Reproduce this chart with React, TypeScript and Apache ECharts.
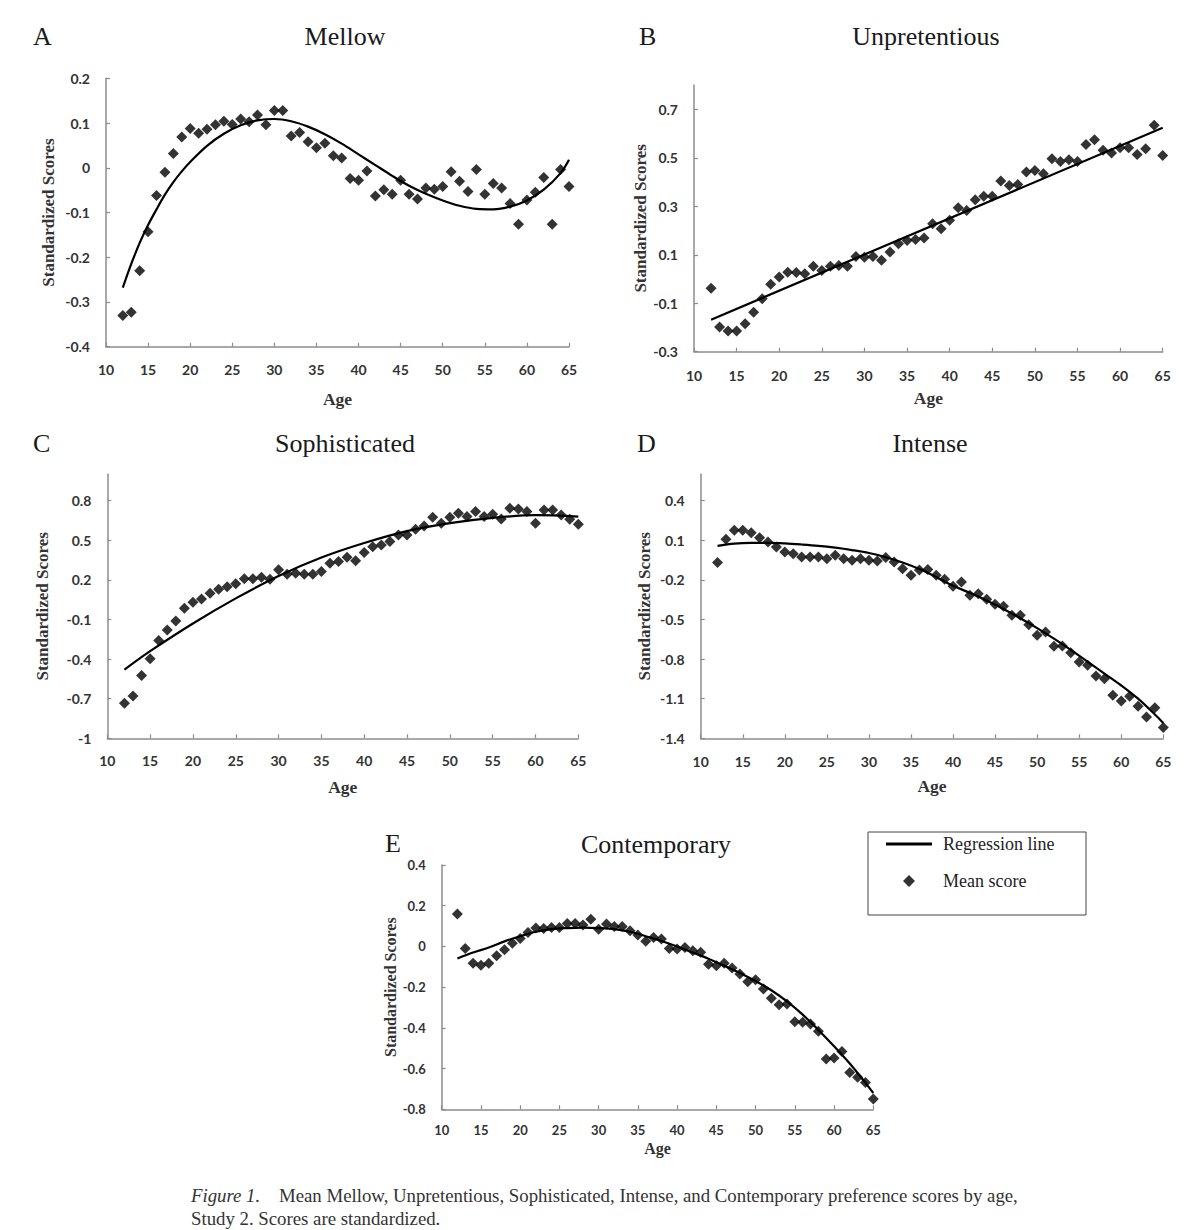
import React, { useEffect, useRef } from 'react';
import * as echarts from 'echarts';

// ---------- data ----------
const ages = [12, 13, 14, 15, 16, 17, 18, 19, 20, 21, 22, 23, 24, 25, 26, 27, 28, 29, 30, 31, 32, 33, 34, 35, 36, 37, 38, 39, 40, 41, 42, 43, 44, 45, 46, 47, 48, 49, 50, 51, 52, 53, 54, 55, 56, 57, 58, 59, 60, 61, 62, 63, 64, 65];

const mellowScores = [-0.330, -0.323, -0.230, -0.143, -0.062, -0.010, 0.032, 0.069, 0.088, 0.077, 0.086, 0.096, 0.104, 0.097, 0.109, 0.103, 0.118, 0.096, 0.128, 0.128, 0.071, 0.079, 0.058, 0.045, 0.055, 0.027, 0.022, -0.024, -0.028, -0.007, -0.063, -0.049, -0.059, -0.028, -0.059, -0.070, -0.045, -0.048, -0.042, -0.009, -0.030, -0.053, -0.004, -0.059, -0.035, -0.045, -0.080, -0.126, -0.072, -0.055, -0.022, -0.126, -0.004, -0.042];

const unpretentiousScores = [-0.038, -0.198, -0.215, -0.215, -0.185, -0.137, -0.082, -0.022, 0.008, 0.028, 0.027, 0.022, 0.053, 0.035, 0.053, 0.056, 0.053, 0.093, 0.090, 0.093, 0.077, 0.111, 0.145, 0.159, 0.163, 0.169, 0.228, 0.207, 0.242, 0.294, 0.283, 0.327, 0.341, 0.341, 0.404, 0.386, 0.390, 0.441, 0.448, 0.434, 0.496, 0.485, 0.492, 0.485, 0.555, 0.575, 0.531, 0.520, 0.542, 0.542, 0.514, 0.537, 0.634, 0.510];

const sophisticatedScores = [-0.734, -0.679, -0.525, -0.398, -0.260, -0.179, -0.111, -0.015, 0.031, 0.056, 0.099, 0.129, 0.149, 0.170, 0.208, 0.208, 0.220, 0.205, 0.276, 0.243, 0.251, 0.243, 0.243, 0.263, 0.326, 0.339, 0.372, 0.346, 0.407, 0.452, 0.465, 0.490, 0.541, 0.541, 0.584, 0.609, 0.675, 0.629, 0.675, 0.705, 0.680, 0.718, 0.680, 0.698, 0.662, 0.743, 0.738, 0.718, 0.629, 0.730, 0.730, 0.692, 0.660, 0.622];

const intenseScores = [-0.069, 0.108, 0.176, 0.176, 0.158, 0.120, 0.087, 0.049, 0.012, -0.001, -0.026, -0.026, -0.026, -0.039, -0.014, -0.039, -0.052, -0.039, -0.052, -0.057, -0.031, -0.064, -0.115, -0.165, -0.125, -0.122, -0.165, -0.195, -0.248, -0.216, -0.317, -0.304, -0.347, -0.385, -0.400, -0.468, -0.468, -0.539, -0.620, -0.594, -0.703, -0.701, -0.751, -0.822, -0.847, -0.928, -0.948, -1.074, -1.117, -1.082, -1.158, -1.238, -1.168, -1.319];

const contemporaryScores = [0.159, -0.010, -0.082, -0.092, -0.082, -0.046, -0.016, 0.016, 0.039, 0.069, 0.090, 0.088, 0.093, 0.093, 0.113, 0.113, 0.105, 0.134, 0.085, 0.110, 0.098, 0.098, 0.077, 0.056, 0.025, 0.044, 0.036, -0.010, -0.013, -0.005, -0.021, -0.029, -0.087, -0.095, -0.083, -0.106, -0.136, -0.173, -0.164, -0.209, -0.255, -0.286, -0.283, -0.370, -0.373, -0.381, -0.417, -0.553, -0.548, -0.516, -0.619, -0.643, -0.668, -0.750];

// regression lines
const mellowFitAges = [12, 13, 14, 15, 16, 17, 18, 19, 20, 22, 24, 26, 28, 30, 32, 34, 36, 38, 40, 42, 44, 46, 48, 50, 52, 54, 56, 58, 60, 62, 64, 65];
const mellowFit = [-0.268, -0.215, -0.168, -0.128, -0.093, -0.060, -0.032, -0.008, 0.013, 0.049, 0.076, 0.095, 0.106, 0.109, 0.104, 0.092, 0.075, 0.054, 0.030, 0.006, -0.018, -0.040, -0.058, -0.073, -0.085, -0.092, -0.093, -0.087, -0.073, -0.049, -0.012, 0.018];

const unpretentiousFitAges = [12, 65];
const unpretentiousFit = [-0.168, 0.624];

const sophisticatedFitAges = [12, 15, 20, 25, 30, 35, 40, 45, 50, 55, 60, 65];
const sophisticatedFit = [-0.48, -0.34, -0.13, 0.06, 0.23, 0.37, 0.48, 0.57, 0.63, 0.67, 0.69, 0.68];

const intenseFitAges = [12, 14, 16, 18, 20, 22, 24, 26, 28, 30, 32, 34, 36, 38, 40, 42, 44, 46, 48, 50, 52, 54, 56, 58, 60, 62, 64, 65];
const intenseFit = [0.058, 0.075, 0.080, 0.080, 0.076, 0.068, 0.058, 0.044, 0.026, 0.004, -0.028, -0.068, -0.118, -0.178, -0.245, -0.298, -0.356, -0.420, -0.490, -0.565, -0.645, -0.730, -0.820, -0.910, -1.000, -1.100, -1.220, -1.285];

const contemporaryFitAges = [12, 14, 16, 18, 20, 22, 24, 26, 28, 30, 32, 34, 36, 38, 40, 42, 44, 46, 48, 50, 52, 54, 56, 58, 60, 62, 64, 65];
const contemporaryFit = [-0.059, -0.030, -0.005, 0.025, 0.050, 0.072, 0.085, 0.090, 0.092, 0.090, 0.085, 0.072, 0.050, 0.027, 0.000, -0.030, -0.060, -0.095, -0.130, -0.170, -0.215, -0.270, -0.335, -0.410, -0.490, -0.575, -0.670, -0.720];

// axes
const ageTicks = [10, 15, 20, 25, 30, 35, 40, 45, 50, 55, 60, 65];
const mellowTicks = [-0.4, -0.3, -0.2, -0.1, 0, 0.1, 0.2];
const unpretentiousTicks = [-0.3, -0.1, 0.1, 0.3, 0.5, 0.7];
const sophisticatedTicks = [-1, -0.7, -0.4, -0.1, 0.2, 0.5, 0.8];
const intenseTicks = [-1.4, -1.1, -0.8, -0.5, -0.2, 0.1, 0.4];
const contemporaryTicks = [-0.8, -0.6, -0.4, -0.2, 0, 0.2, 0.4];

const panelTitles = ['Mellow', 'Unpretentious', 'Sophisticated', 'Intense', 'Contemporary'];
const panelLetters = ['A', 'B', 'C', 'D', 'E'];
const yRanges = [[-0.4, 0.2], [-0.3, 0.8], [-1, 1.0], [-1.4, 0.6], [-0.8, 0.4]];

const legendLabels = ['Regression line', 'Mean score'];
const captionLead = 'Figure 1.';
const captionLine1 = 'Mean Mellow, Unpretentious, Sophisticated, Intense, and Contemporary preference scores by age,';
const captionLine2 = 'Study 2. Scores are standardized.';

// ---------- layout ----------
const grids = [
  { left: 106, top: 78.3, width: 463, height: 268.4 },
  { left: 694, top: 85.1, width: 468.7, height: 266.6 },
  { left: 107.3, top: 474.3, width: 471, height: 264 },
  { left: 700.7, top: 474.3, width: 462.6, height: 264 },
  { left: 441.7, top: 865, width: 431.6, height: 244.3 },
];
const yNameGaps = [49, 43, 56, 48, 42];
const xNameGaps = [43, 37, 40, 39, 31];
const xLabelMargins = [16, 17, 15, 16, 14];
const titlePos = [
  { x: 345, y: 36 }, { x: 926, y: 36 }, { x: 345, y: 443 }, { x: 930, y: 443 }, { x: 656, y: 844 },
];
const letterPos = [
  { x: 33, y: 36 }, { x: 639, y: 36 }, { x: 33, y: 443 }, { x: 637, y: 443 }, { x: 385, y: 843 },
];

const scoreSets = [mellowScores, unpretentiousScores, sophisticatedScores, intenseScores, contemporaryScores];
const fitAgeSets = [mellowFitAges, unpretentiousFitAges, sophisticatedFitAges, intenseFitAges, contemporaryFitAges];
const fitSets = [mellowFit, unpretentiousFit, sophisticatedFit, intenseFit, contemporaryFit];
const yTickSets = [mellowTicks, unpretentiousTicks, sophisticatedTicks, intenseTicks, contemporaryTicks];

const AXIS_COLOR = '#8c8c8c';
const SERIF = '"Liberation Serif", "Times New Roman", serif';
const SANS = 'Lato, "Open Sans", sans-serif';

function fmt(v: number) {
  return String(Math.round(v * 10) / 10);
}

export default function App() {
  const ref = useRef<HTMLDivElement | null>(null);

  useEffect(() => {
    if (!ref.current) return;
    const chart = echarts.init(ref.current, undefined, { renderer: 'svg' });

    const xAxis = grids.map((_, i) => ({
      type: 'value',
      gridIndex: i,
      min: 10,
      max: 65,
      interval: 5,
      name: 'Age',
      nameLocation: 'middle',
      nameGap: xNameGaps[i],
      nameTextStyle: { fontFamily: SERIF, fontWeight: 'bold', fontSize: i === 4 ? 16 : 17.5, color: '#333' },
      splitLine: { show: false },
      axisLine: { show: true, onZero: false, lineStyle: { color: AXIS_COLOR, width: 1.5 } },
      axisTick: { show: true, inside: true, length: 4, lineStyle: { color: AXIS_COLOR, width: 1.2 } },
      axisLabel: {
        margin: xLabelMargins[i],
        fontFamily: SANS,
        fontWeight: 'bold',
        fontSize: i === 4 ? 13 : 14,
        color: '#333',
        customValues: ageTicks,
      },
    }));

    const yAxis = grids.map((_, i) => ({
      type: 'value',
      gridIndex: i,
      min: yRanges[i][0],
      max: yRanges[i][1],
      name: 'Standardized Scores',
      nameLocation: 'middle',
      nameGap: yNameGaps[i],
      nameTextStyle: { fontFamily: SERIF, fontWeight: 'bold', fontSize: i === 4 ? 16 : 17, color: '#333' },
      splitLine: { show: false },
      axisLine: { show: true, onZero: false, lineStyle: { color: AXIS_COLOR, width: 1.5 } },
      axisTick: { show: true, inside: true, length: 4, lineStyle: { color: AXIS_COLOR, width: 1.2 }, customValues: yTickSets[i] },
      axisLabel: {
        margin: 16,
        fontFamily: SANS,
        fontWeight: 'bold',
        fontSize: i === 4 ? 13 : 14,
        color: '#333',
        formatter: (v: number) => fmt(v),
        customValues: yTickSets[i],
      },
    }));

    const series: any[] = [];
    grids.forEach((_, i) => {
      series.push({
        type: 'line',
        name: legendLabels[0],
        xAxisIndex: i,
        yAxisIndex: i,
        data: fitAgeSets[i].map((a, k) => [a, fitSets[i][k]]),
        smooth: fitAgeSets[i].length > 2 ? 0.35 : false,
        showSymbol: false,
        symbol: 'none',
        color: '#000',
        lineStyle: { color: '#000', width: 2.2 },
        z: 2,
      });
      series.push({
        type: 'scatter',
        name: legendLabels[1],
        xAxisIndex: i,
        yAxisIndex: i,
        data: ages.map((a, k) => [a, scoreSets[i][k]]),
        symbol: 'diamond',
        symbolSize: 11,
        color: '#000',
        itemStyle: { color: '#000' },
        z: 3,
      });
    });

    const graphic: any[] = [];
    panelTitles.forEach((t, i) => {
      graphic.push({
        type: 'text',
        x: titlePos[i].x,
        y: titlePos[i].y,
        style: { text: t, font: `26px ${SERIF}`, fill: '#1a1a1a', align: 'center', verticalAlign: 'middle' },
      });
      graphic.push({
        type: 'text',
        x: letterPos[i].x,
        y: letterPos[i].y,
        style: { text: panelLetters[i], font: `26px ${SERIF}`, fill: '#1a1a1a', align: 'left', verticalAlign: 'middle' },
      });
    });
    graphic.push({
      type: 'rect',
      shape: { x: 868, y: 832, width: 218, height: 83 },
      style: { fill: 'none', stroke: '#444', lineWidth: 1 },
    });
    graphic.push({
      type: 'text',
      x: 191,
      y: 1195,
      style: {
        text: `{i|${captionLead}}    ${captionLine1}`,
        font: `18.8px ${SERIF}`,
        fill: '#333',
        align: 'left',
        verticalAlign: 'middle',
        rich: { i: { fontStyle: 'italic', fontFamily: SERIF, fontSize: 18.8, fill: '#333' } },
      },
    });
    graphic.push({
      type: 'text',
      x: 191,
      y: 1218,
      style: { text: captionLine2, font: `18.8px ${SERIF}`, fill: '#333', align: 'left', verticalAlign: 'middle' },
    });

    chart.setOption({
      animation: false,
      backgroundColor: '#fff',
      grid: grids.map((g) => ({ ...g, containLabel: false })),
      xAxis,
      yAxis,
      series,
      legend: {
        show: true,
        orient: 'vertical',
        left: 886,
        top: 835,
        padding: 0,
        itemWidth: 46,
        itemHeight: 12,
        itemGap: 19,
        selectedMode: false,
        textStyle: { fontFamily: SERIF, fontSize: 18, color: '#222', lineHeight: 18, padding: [0, 0, 0, 6] },
        data: [
          { name: legendLabels[0], icon: 'path://M0,0 L46,0 L46,3 L0,3 Z', itemStyle: { color: '#000' } },
          { name: legendLabels[1], icon: 'path://M6,0 L12,6 L6,12 L0,6 Z', itemStyle: { color: '#000' } },
        ],
      },
      graphic,
    });

    return () => chart.dispose();
  }, []);

  return <div ref={ref} style={{ position: 'absolute', left: 0, top: 0, width: 1202, height: 1230, background: '#fff' }} />;
}
